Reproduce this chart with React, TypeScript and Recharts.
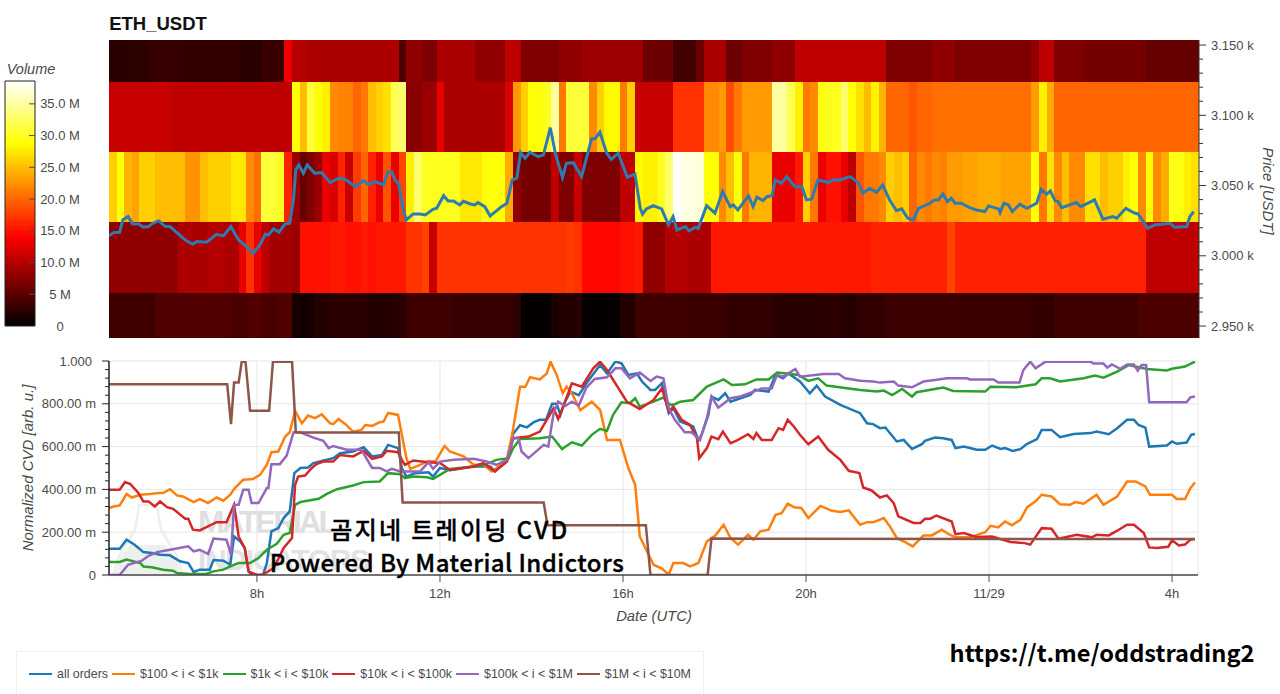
import React from "react";
import { ComposedChart, LineChart, Line, XAxis, YAxis, CartesianGrid, ReferenceArea, Legend } from "recharts";

type Pt = [number, number];

// time = minutes since the first column (04:46 UTC)
const timeTickValues = [194, 434, 674, 914, 1154, 1394];
const timeTickLabels = ["8h", "12h", "16h", "20h", "11/29", "4h"];

const priceMajorTicks = [2950, 3000, 3050, 3100, 3150];
const priceAllTicks = [2950, 2960, 2970, 2980, 2990, 3000, 3010, 3020, 3030, 3040, 3050, 3060, 3070, 3080, 3090, 3100, 3110, 3120, 3130, 3140, 3150];
const priceLabels = ["2.950 k", "3.000 k", "3.050 k", "3.100 k", "3.150 k"];

const volumeTicks = [0, 5, 10, 15, 20, 25, 30, 35];
const volumeLabels = ["0", "5 M", "10.0 M", "15.0 M", "20.0 M", "25.0 M", "30.0 M", "35.0 M"];

const cvdMajorTicks = [0, 0.2, 0.4, 0.6, 0.8, 1];
const cvdAllTicks = [0, 0.04, 0.08, 0.12, 0.16, 0.2, 0.24, 0.28, 0.32, 0.36, 0.4, 0.44, 0.48, 0.52, 0.56, 0.6, 0.64, 0.68, 0.72, 0.76, 0.8, 0.84, 0.88, 0.92, 0.96, 1];
const cvdLabels = ["0", "200.00 m", "400.00 m", "600.00 m", "800.00 m", "1.000"];

// price bands: [low, high, 10-minute column volumes in millions]
const band3150 = [
  2.5,2.5,2.4,2.6,2.5,3.0,3.1,3.0,3.0,2.8,
  2.8,2.8,2.8,2.8,2.8,2.8,2.8,2.3,2.3,2.4,
  3.2,3.2,3.2,13,10,10,9.5,9.5,9.5,9.5,
  9.5,9.5,9.5,9.5,9.5,9.5,9.5,9.5,4.5,8,
  8,7,7,9.5,9.5,9.5,9.5,9.5,8,8,
  8,8,10.5,10.5,7,7,7,7,7,8,
  8,8,8.6,8.6,8.6,8.6,8.6,8.6,8.6,8.6,
  6,6,6,6,3.7,3.5,3.7,6,9.5,9.5,
  9.5,6,6,7,7,7,7,8,8,8,
  10.5,10.5,10.5,10.5,10.5,10.5,10.5,10.5,10.5,10.5,
  10.5,10.5,7,7,7,7,7,7,8,8,
  8,7,7,7,7,7,7,7,7,7,
  7,8,10.5,10.5,7,7,7,7,6.4,6.4,
  6.4,6.4,6.4,6.4,6.4,6.4,5.5,5.5,5.5,5.5,
  5.5,5.5,5.5,
];
const band3100 = [
  11,11,11,11,11,11,11,11,10.5,10.5,
  10.5,10.5,10.5,10.5,10.5,10.5,10.5,10.5,10.5,10.5,
  10.5,10.5,10.5,10.5,29,25,31,29,28,22,
  21.5,21.5,20,21,25,26,27,32,33,7.5,
  7.5,8.5,8.5,13,9.5,9.5,9.5,9.5,9.5,9.5,
  9.5,9.5,12,23,26,29,29,30,35,21,
  31,31,31,22,26,28.5,28.5,21,26,11,
  11,11,11,11,17,17,17,17,22,22,
  23,18.5,21,23,23,23,23,35,35,32,
  28,21,22,29.5,30,30,33,29,27,25,
  28,24.5,20,20,20,19,20,20,20.5,20.5,
  20.5,20.5,20.5,20.5,20.5,20.5,20.5,20.5,20.5,20.5,
  20.5,23,28,24,20,20,20,20,20,20,
  20,20,20,20,20,20,20,20,20,20,
  20,20,20,
];
const band3050 = [
  26,29,24.5,23.5,26,26,25,25,25,25,
  22.5,22.5,25,26,26,26,27.5,27.5,22,20.5,
  31,31,30,16,8.5,5.5,7,8.5,13,12,
  16,11,17.5,20,16,13,19,13,18,28,
  33,30,30,30,30,30,27.5,27.5,27.5,29,
  29,29,24,8,6.5,6.5,6.5,6.5,10.5,7,
  7,11,7,7,7,7,7,10.5,10.5,28.5,
  28,28,30,33,39,37.5,37.5,37,29,29,
  22,25,29,21,24.5,24.5,24.5,13,13,13,
  15.5,26,21,13,15,15,13,10.5,19,21,
  21,22,26,25,26,20,22,21,22,21.5,
  23,23,23.5,23.5,24,24,24,23.5,23.5,23.5,
  23.5,29,21,27,22,25,22,22,27,27,
  25,26,26,28,29,22,29,22,24,29.5,
  29.5,28,27,
];
const band3000 = [
  8,8,8,8,8,8,8,8,8,9.5,
  9.5,9.5,9.5,10,10,9.5,9.5,13,17,13,
  10.5,9,9,9,8.5,15,15,15,15,15.5,
  15.5,15,15,15.5,15,15.5,15.5,15.5,15.5,17,
  17,18,11,17,17,17,17,17,17,17,
  17,17,17,17,17,17,17,17,17,17,
  17.5,17,14.5,14.5,14.5,14.5,14.5,15,15,15.5,
  8,8,8,10,10,10,9.5,9.5,9.5,15.5,
  15.5,15.5,15.5,15.5,15.5,15.5,15.5,15.5,15.5,15.5,
  15.5,15.5,15.5,15.5,15.5,15.5,15.5,15.5,15.5,15.5,
  16,16,16,16,16,16,16,16,16,16,
  18,16,16,16,16,16,16,16,16,16,
  16,16,16,16,16,16,16,16,16,16,
  16,16,16,16,16,16,10.5,10.5,10.5,10.5,
  10.5,10.5,10.5,
];
const band2950 = [
  3.5,3.5,3.5,3.5,3.5,3.5,4.5,4.5,4.5,4.5,
  4.5,4.5,4.5,4.5,4.5,4.5,4,4,4.5,4.5,
  4,4,4.5,4.5,1.2,1,1.2,2,2,2.5,
  2.5,2.5,2.5,2.5,2,2,2,2,2.5,3.5,
  3.5,3.5,3.5,3.5,3.5,3,3,3,3,3,
  3,3,3,2.5,0.3,0.3,0.3,0.3,1.5,2,
  2,2,0.4,0.3,0.3,0.3,0.4,1.8,1.8,3.5,
  3.5,3.5,3.5,3.5,3.5,3.5,3.2,3.2,3.2,3.2,
  3.2,2.8,2.8,2.8,2.8,2.8,2.8,2.2,2.2,2.2,
  2.2,2.2,2.2,2.5,2.5,2.5,2,2,2.8,2.8,
  2.8,2.8,3.3,3.3,3.3,3.3,3.3,3.3,3.3,3.3,
  3.3,3.2,3.2,3.2,3.2,3.2,3.2,3.2,3.2,3.2,
  3.2,2.8,2.8,2.8,3.5,3.5,3.5,3.5,3.5,3.5,
  3.5,3.5,3.5,3.5,3.5,4.2,4.2,4.2,4.2,4.2,
  4.2,4.2,4.2,
];
const priceBands: [number, number, number[]][] = [
  [3123.8, 3153.6, band3150],
  [3073.8, 3123.8, band3100],
  [3023.8, 3073.8, band3050],
  [2973.8, 3023.8, band3000],
  [2941.5, 2973.8, band2950],
];

const price: Pt[] = [
  [0,3014.2],[6,3016.5],[14,3016.8],[18,3025.5],[25,3027.9],[31,3022.7],[39,3022.7],[45,3020.3],[52,3020.8],[56,3022.7],[65,3025],[74,3020.8],[80,3020.8],[89,3016.5],[100,3011.3],[110,3008.2],[115,3010.1],[128,3009.7],[141,3015.3],[150,3014.2],[160,3020.8],[170,3011.3],[178,3007.8],[189,3001.8],[198,3007.8],[205,3015.3],[209,3014.8],[216,3019.2],[223,3016.8],[231,3022.7],[237,3023.2],[242,3039.8],[245,3061.1],[249,3064.7],[255,3058.7],[260,3064.7],[270,3058.7],[279,3059.2],[290,3052.1],[301,3055.2],[310,3054.5],[323,3049.2],[334,3053.5],[340,3050.9],[349,3052.8],[360,3050.4],[366,3059.9],[371,3059.9],[375,3054],[380,3051.6],[385,3035],[390,3025.5],[399,3029.8],
  [408,3029.8],[415,3029.1],[425,3033.1],[430,3033.8],[439,3042.8],[445,3039],[452,3039],[460,3036.2],[465,3038.8],[474,3036.9],[480,3036.2],[484,3037.9],[493,3035],[500,3028.4],[515,3035],[522,3037.4],[529,3054],[535,3055.2],[540,3073.4],[546,3069.4],[552,3073.7],[563,3070.6],[570,3071.8],[579,3091.2],[586,3071.8],[595,3055.9],[600,3065.8],[609,3066.3],[620,3056.4],[633,3083.1],[638,3083.6],[644,3087.9],[653,3073],[659,3068.7],[668,3073],[680,3055.9],[690,3058.2],[697,3033.8],[700,3029.6],[705,3033.4],[714,3035.7],[725,3033.4],[734,3022],[740,3027.9],[745,3018.4],[756,3020.8],[761,3017.7],[769,3020.3],[773,3019.6],[784,3035.7],[795,3030.3],[805,3045.7],[815,3035],[819,3036.2],[825,3032.6],[839,3042.6],[845,3035],[850,3041.7],[858,3039.3],[863,3042.1],[870,3042.8],[874,3054],[882,3051.6],[889,3056.4],[900,3049.2],[909,3049.2],[915,3039.8],[922,3040.5],[930,3054],[944,3052.3],[950,3054],[959,3054],
  [972,3056.4],[983,3052.1],[989,3044.5],[998,3048.1],[1007,3045.2],[1015,3050.4],[1024,3039.8],[1033,3032.2],[1040,3033.4],[1048,3026.7],[1055,3025.5],[1062,3033.8],[1077,3037.4],[1083,3039.8],[1088,3039.8],[1094,3044],[1100,3038.6],[1105,3041],[1110,3037.4],[1118,3037.4],[1129,3034.3],[1138,3032.6],[1149,3031.5],[1154,3035.5],[1167,3033.4],[1169,3030.7],[1174,3037.4],[1180,3036.2],[1185,3031.5],[1195,3036.7],[1204,3033.8],[1217,3037.4],[1223,3047.3],[1230,3043.8],[1235,3046.2],[1241,3039.3],[1245,3038.6],[1250,3034.3],[1269,3037.9],[1275,3035],[1293,3039.8],[1304,3026],[1317,3027.9],[1322,3026.7],[1334,3033.8],[1346,3030.3],[1350,3029.8],[1363,3019.6],[1372,3022],[1392,3023.2],[1398,3020.3],[1414,3020.8],[1418,3027.9],[1423,3031.5],
];

const allOrders: Pt[] = [
  [0,.123],[14,.123],[23,.165],[34,.14],[45,.107],[56,.103],[67,.095],[80,.092],[93,.064],[104,.056],[111,.014],[119,.025],[132,.025],[137,.07],[150,.067],[159,.048],[164,.18],[172,.157],[178,.126],[183,.017],[187,0],[202,0],[207,.056],[213,.204],[222,.219],[229,.266],[237,.297],[243,.476],[251,.5],[261,.502],[268,.523],[279,.533],[294,.546],[303,.569],[320,.577],[334,.597],[345,.554],[358,.561],[366,.608],[379,.593],[384,.5],[390,.46],[401,.476],[419,.48],[425,.46],
  [434,.5],[447,.49],[478,.507],[500,.507],[506,.484],[522,.538],[530,.66],[539,.7],[548,.69],[557,.714],[565,.725],[573,.725],[581,.8],[587,.8],[592,.748],[598,.81],[605,.857],[616,.84],[626,.896],[644,.981],[653,.942],[664,.997],[672,.989],[681,.935],[692,.942],[699,.904],[710,.865],[716,.865],[725,.896],[734,.756],[740,.78],[749,.717],[766,.694],[773,.631],[777,.655],[786,.748],[790,.834],[799,.818],[808,.849],[815,.81],[828,.826],[841,.841],[847,.865],[865,.857],[874,.935],[884,.919],[891,.942],[906,.904],[919,.849],[928,.885],[939,.834],[959,.795],[985,.756],
  [994,.709],[1002,.705],[1011,.686],[1018,.689],[1033,.624],[1042,.631],[1053,.589],[1066,.611],[1070,.627],[1083,.642],[1094,.639],[1105,.631],[1110,.593],[1121,.6],[1138,.585],[1149,.585],[1158,.605],[1169,.589],[1175,.593],[1185,.58],[1195,.588],[1204,.613],[1217,.635],[1223,.678],[1236,.678],[1247,.644],[1265,.659],[1287,.663],[1295,.67],[1311,.658],[1322,.686],[1335,.725],[1344,.725],[1350,.701],[1359,.689],[1364,.6],[1387,.605],[1394,.624],[1400,.613],[1413,.619],[1419,.655],[1424,.659],
];

const orders100To1k: Pt[] = [
  [0,.313],[6,.32],[14,.325],[23,.378],[30,.362],[41,.375],[54,.378],[65,.383],[71,.383],[80,.401],[89,.372],[97,.367],[111,.341],[119,.355],[130,.336],[141,.362],[150,.347],[159,.375],[165,.406],[176,.445],[189,.449],[198,.468],[207,.515],[213,.574],[222,.577],[231,.647],[237,.667],[244,.767],[253,.709],[261,.745],[270,.733],[279,.751],[290,.709],[294,.705],[301,.729],[310,.705],[320,.67],[331,.678],[336,.701],[345,.697],[355,.714],[360,.717],[366,.757],[379,.748],[390,.546],[395,.496],[408,.515],[419,.533],[428,.53],
  [440,.603],[447,.577],[465,.554],[478,.515],[491,.515],[502,.484],[511,.507],[522,.546],[529,.663],[539,.88],[546,.88],[552,.924],[565,.914],[574,.942],[579,.997],[587,.935],[595,.849],[600,.88],[607,.849],[618,.771],[633,.81],[644,.771],[653,.631],[670,.631],[681,.5],[690,.421],[696,.18],[714,.048],[725,.03],[734,.002],[740,.056],[753,.056],[762,.04],[773,.056],[784,.157],[795,.184],[806,.235],[815,.173],[825,.142],[838,.188],[845,.165],[854,.204],[865,.212],[874,.281],[882,.289],[890,.333],[898,.317],[908,.313],[917,.266],[933,.323],[948,.3],[959,.294],[970,.302],[985,.235],
  [994,.247],[1002,.246],[1016,.266],[1024,.227],[1033,.173],[1044,.154],[1054,.134],[1068,.185],[1079,.185],[1092,.212],[1101,.191],[1110,.176],[1129,.176],[1149,.2],[1156,.23],[1166,.222],[1175,.25],[1184,.232],[1195,.258],[1204,.317],[1215,.344],[1223,.375],[1236,.367],[1247,.331],[1260,.328],[1267,.341],[1278,.333],[1295,.375],[1304,.328],[1322,.367],[1335,.437],[1346,.437],[1359,.414],[1365,.375],[1394,.375],[1400,.355],[1411,.355],[1418,.406],[1424,.432],
];

const orders1kTo10k: Pt[] = [
  [0,.061],[14,.061],[23,.072],[41,.056],[45,.04],[56,.036],[71,.025],[84,.02],[89,.009],[106,.005],[115,.005],[128,.006],[137,.017],[150,.025],[159,.04],[170,.056],[185,.056],[196,.079],[207,.118],[220,.146],[229,.188],[237,.196],[244,.328],[251,.341],[275,.356],[285,.378],[299,.401],[320,.418],[334,.434],[355,.437],[366,.476],[382,.471],[388,.453],[399,.46],[417,.457],[425,.449],
  [434,.468],[447,.496],[478,.507],[495,.518],[508,.538],[524,.546],[530,.593],[539,.636],[565,.639],[581,.647],[594,.589],[607,.62],[620,.605],[633,.655],[644,.683],[653,.673],[661,.748],[672,.807],[683,.803],[690,.826],[696,.787],[714,.81],[727,.829],[736,.795],[742,.798],[749,.81],[766,.818],[784,.88],[806,.914],[817,.888],[834,.891],[849,.914],[865,.914],[876,.946],[889,.942],[904,.935],[917,.907],[930,.919],[941,.885],[985,.865],
  [1007,.857],[1016,.862],[1027,.841],[1040,.869],[1053,.834],[1059,.854],[1094,.876],[1107,.86],[1149,.857],[1156,.88],[1190,.877],[1215,.891],[1223,.919],[1234,.919],[1247,.904],[1278,.919],[1293,.932],[1304,.922],[1322,.95],[1337,.981],[1361,.963],[1387,.956],[1394,.964],[1411,.974],[1424,.997],
];

const orders10kTo100k: Pt[] = [
  [0,.398],[14,.398],[21,.434],[28,.425],[38,.386],[45,.344],[52,.344],[60,.32],[67,.344],[76,.317],[84,.309],[100,.263],[104,.263],[110,.212],[119,.208],[141,.247],[154,.247],[164,.328],[170,.18],[178,.126],[183,.017],[194,0],[202,.002],[216,.033],[229,.126],[240,.173],[244,.421],[248,.46],[257,.465],[266,.5],[272,.518],[281,.53],[294,.53],[303,.561],[320,.554],[334,.58],[345,.543],[358,.554],[364,.58],[379,.574],[384,.538],[388,.515],[399,.535],[419,.527],[434,.523],
  [447,.491],[478,.507],[491,.523],[506,.484],[522,.53],[530,.639],[550,.647],[565,.67],[574,.725],[583,.779],[589,.729],[598,.81],[607,.896],[620,.88],[635,.966],[644,.997],[653,.958],[679,.81],[696,.776],[714,.818],[725,.872],[734,.764],[740,.787],[751,.725],[762,.701],[771,.639],[774,.546],[784,.593],[790,.647],[799,.635],[805,.67],[815,.616],[823,.628],[838,.658],[845,.636],[849,.663],[856,.631],[869,.631],[878,.686],[884,.678],[890,.725],[898,.694],[906,.655],[917,.611],[930,.647],[943,.585],[959,.538],[970,.487],[984,.476],
  [989,.409],[1000,.395],[1011,.362],[1020,.372],[1029,.336],[1035,.274],[1055,.243],[1064,.243],[1070,.263],[1077,.263],[1085,.278],[1105,.25],[1110,.191],[1121,.196],[1138,.177],[1158,.18],[1182,.154],[1201,.149],[1208,.142],[1223,.219],[1236,.216],[1245,.17],[1269,.188],[1289,.176],[1295,.188],[1311,.185],[1322,.207],[1335,.235],[1344,.235],[1357,.196],[1364,.129],[1374,.126],[1389,.132],[1394,.162],[1403,.138],[1411,.142],[1418,.165],[1424,.168],
];

const orders100kTo1M: Pt[] = [
  [0,0],[14,0],[25,.048],[43,.067],[52,.09],[63,.107],[80,.118],[104,.134],[111,.11],[119,.118],[130,.098],[137,.17],[154,.165],[160,.095],[164,.328],[170,.328],[176,.398],[183,.398],[187,.336],[196,.336],[207,.406],[209,.406],[213,.518],[224,.518],[233,.558],[242,.667],[251,.667],[268,.642],[281,.627],[288,.593],[294,.603],[312,.585],[331,.585],[345,.5],[355,.5],[364,.484],[371,.496],[382,.484],[408,.484],[419,.527],[425,.496],
  [434,.53],[452,.538],[478,.543],[495,.53],[508,.515],[522,.538],[530,.639],[537,.639],[541,.577],[550,.546],[570,.608],[576,.6],[583,.756],[589,.81],[598,.79],[607,.81],[616,.792],[626,.876],[637,.916],[653,.924],[664,.966],[672,.966],[683,.919],[696,.946],[710,.907],[718,.927],[727,.919],[734,.779],[742,.725],[755,.667],[764,.667],[775,.631],[784,.733],[790,.834],[799,.782],[815,.826],[828,.834],[845,.857],[856,.872],[869,.872],[876,.935],[884,.927],[900,.963],[906,.927],[937,.939],[957,.939],[965,.919],[985,.908],
  [1002,.904],[1011,.899],[1029,.904],[1035,.885],[1053,.877],[1068,.904],[1083,.911],[1099,.919],[1125,.919],[1129,.914],[1160,.914],[1166,.899],[1194,.899],[1199,.958],[1208,.997],[1215,.966],[1228,.997],[1287,.997],[1291,.988],[1304,.988],[1309,.969],[1315,.984],[1326,.963],[1335,.984],[1344,.984],[1349,.955],[1354,.981],[1360,.981],[1364,.807],[1413,.807],[1418,.83],[1424,.834],
];

const orders1MTo10M: Pt[] = [
  [0,.891],[155,.891],[160,.705],[164,.899],[170,.899],[174,.997],[179,.997],[185,.767],[210,.767],[215,.997],[240,.997],[245,.666],[380,.666],[385,.339],[570,.339],[575,.232],[704,.232],[710,0],[785,0],[790,.17],[1424,.168],
];

const toRows = (pts: Pt[]) => pts.map(([t, v]) => ({ t, v }));

const cvdSeries: [string, string, Pt[]][] = [
  ["all orders", "#1f77b4", allOrders],
  ["$100 < i < $1k", "#ff7f0e", orders100To1k],
  ["$1k < i < $10k", "#2ca02c", orders1kTo10k],
  ["$10k < i < $100k", "#d62728", orders10kTo100k],
  ["$100k < i < $1M", "#9467bd", orders100kTo1M],
  ["$1M < i < $10M", "#8c564b", orders1MTo10M],
];

const SANS = '"Liberation Sans", Arial, sans-serif';
const KR = '"Noto Sans CJK KR", "Noto Sans", sans-serif';
const GREY = "#4a4a4a";

const VOLUME_MAX = 38.6;
const COLOR_STEPS = 150;
function hot(volume: number) {
  const u = Math.max(0, Math.min(1, volume / VOLUME_MAX));
  const ch = (a: number, b: number) => Math.round(255 * Math.max(0, Math.min(1, (u - a) / (b - a))));
  return `rgb(${ch(0, 0.365)},${ch(0.365, 0.746)},${ch(0.746, 1)})`;
}

function Txt({ x, y, rotate = 0, style, children }: any) {
  return (
    <div
      style={{
        position: "absolute",
        left: x,
        top: y,
        transform: `translate(-50%,-50%) rotate(${rotate}deg)`,
        whiteSpace: "nowrap",
        fontFamily: SANS,
        ...style,
      }}
    >
      {children}
    </div>
  );
}

const PriceTick = ({ x, y, payload }: any) => {
  const i = priceMajorTicks.indexOf(payload.value);
  return (
    <g>
      <line x1={x} x2={x + (i >= 0 ? 7 : 4)} y1={y} y2={y} stroke="#333" strokeWidth={1} />
      {i >= 0 && (
        <text x={x + 12} y={y + 4.5} fontSize={13} fontFamily={SANS} fill={GREY} textAnchor="start">
          {priceLabels[i]}
        </text>
      )}
    </g>
  );
};

const VolumeTick = ({ x, y, payload }: any) => {
  const i = volumeTicks.indexOf(payload.value);
  return (
    <g>
      {payload.value > 0 && <line x1={x - 6} x2={x} y1={y} y2={y} stroke={GREY} strokeWidth={1} />}
      <text x={x + 25} y={y + 4.5} fontSize={13} fontFamily={SANS} fill={GREY} textAnchor="middle">
        {volumeLabels[i]}
      </text>
    </g>
  );
};

const CvdTick = ({ x, y, payload }: any) => {
  const i = cvdMajorTicks.findIndex((m) => Math.abs(m - payload.value) < 1e-9);
  return (
    <g>
      <line x1={x - (i >= 0 ? 7 : 4)} x2={x} y1={y} y2={y} stroke="#222" strokeWidth={1} />
      {i >= 0 && (
        <text x={x - (payload.value === 1 ? 17 : 13)} y={y + 4.5} fontSize={13} fontFamily={SANS} fill={GREY} textAnchor="end">
          {cvdLabels[i]}
        </text>
      )}
    </g>
  );
};

const TimeTick = ({ x, y, payload }: any) => {
  const i = timeTickValues.indexOf(payload.value);
  return (
    <g>
      <line x1={x} x2={x} y1={y} y2={y + 7} stroke={GREY} strokeWidth={1} />
      <text x={x} y={y + 23} fontSize={13} fontFamily={SANS} fill={GREY} textAnchor="middle">
        {timeTickLabels[i]}
      </text>
    </g>
  );
};

const LegendBox = ({ payload }: any) => (
  <div
    style={{
      boxSizing: "border-box",
      width: 688,
      height: 43,
      border: "1px solid #f0f0f0",
      borderBottom: "none",
      display: "flex",
      alignItems: "center",
      paddingLeft: 12,
      paddingTop: 2,
      fontFamily: SANS,
      fontSize: 12.4,
      color: GREY,
      whiteSpace: "nowrap",
    }}
  >
    {(payload || []).map((item: any) => (
      <span key={item.value} style={{ display: "inline-flex", alignItems: "center", marginRight: 4 }}>
        <span style={{ display: "inline-block", width: 23, height: 2, background: item.color, marginRight: 5 }} />
        {item.value}
      </span>
    ))}
  </div>
);

const HeatCell = ({ x, y, width, height, fill }: any) => (
  <rect x={x} y={y} width={width} height={height} fill={fill} shapeRendering="crispEdges" />
);

function HeatmapChart() {
  return (
    <ComposedChart width={1280} height={345} margin={{ top: 40, right: 11, bottom: 7, left: 109 }} style={{ position: "absolute", left: 0, top: 0 }}>
      <XAxis type="number" dataKey="t" domain={[0, 1430]} hide allowDataOverflow />
      <YAxis
        type="number"
        dataKey="v"
        orientation="right"
        width={70}
        domain={[2941.5, 3153.6]}
        ticks={priceAllTicks}
        interval={0}
        tickLine={false}
        tickSize={0}
        tickMargin={0}
        tick={PriceTick}
        axisLine={{ stroke: "#333", strokeWidth: 1 }}
        allowDataOverflow
      />
      {priceBands.flatMap(([low, high, volumes]) =>
        volumes.map((volume, col) => (
          <ReferenceArea
            key={`${low}-${col}`}
            x1={col * 10}
            x2={Math.min(1430, col * 10 + 10)}
            y1={low}
            y2={high}
            fill={hot(volume)}
            fillOpacity={1}
            shape={HeatCell}
            ifOverflow="extendDomain"
          />
        ))
      )}
      <Line data={toRows(price)} dataKey="v" stroke="#2f7bb0" strokeWidth={3} dot={false} isAnimationActive={false} legendType="none" />
    </ComposedChart>
  );
}

function ColorBar() {
  const levels = Array.from({ length: COLOR_STEPS }, (_, i) => i);
  return (
    <ComposedChart
      width={100}
      height={280}
      data={volumeTicks.map((v) => ({ x: 0.5, v }))}
      margin={{ top: 21, right: 0, bottom: 14, left: 5 }}
      style={{ position: "absolute", left: 0, top: 60 }}
    >
      <XAxis type="number" dataKey="x" domain={[0, 1]} hide allowDataOverflow />
      <YAxis
        type="number"
        dataKey="v"
        orientation="right"
        width={65}
        domain={[0, VOLUME_MAX]}
        allowDataOverflow
        ticks={volumeTicks}
        interval={0}
        tickLine={false}
        tickSize={0}
        tickMargin={0}
        tick={VolumeTick}
        axisLine={false}
      />
      {levels.map((i) => {
        const low = (i / COLOR_STEPS) * VOLUME_MAX;
        const high = ((i + 1) / COLOR_STEPS) * VOLUME_MAX;
        return (
          <ReferenceArea
            key={i}
            x1={0}
            x2={1}
            y1={low}
            y2={high}
            fill={hot((low + high) / 2)}
            fillOpacity={1}
            shape={HeatCell}
            ifOverflow="extendDomain"
          />
        );
      })}
      <ReferenceArea x1={0} x2={1} y1={0} y2={VOLUME_MAX} fill="none" stroke="#222" strokeWidth={1} ifOverflow="extendDomain" />
      <Line dataKey="v" stroke="none" dot={false} isAnimationActive={false} legendType="none" />
    </ComposedChart>
  );
}

function CvdChart() {
  return (
    <LineChart width={1280} height={349} margin={{ top: 16, right: 82, bottom: 89, left: 0 }} style={{ position: "absolute", left: 0, top: 345 }}>
      <CartesianGrid stroke="#e6e6e6" strokeWidth={1} horizontalValues={cvdMajorTicks} verticalValues={[...timeTickValues, 1428]} />
      <XAxis
        type="number"
        dataKey="t"
        domain={[0, 1428]}
        height={30}
        ticks={timeTickValues}
        interval={0}
        tickLine={false}
        tickSize={0}
        tickMargin={0}
        tick={TimeTick}
        axisLine={{ stroke: GREY, strokeWidth: 1.5 }}
        allowDataOverflow
      />
      <YAxis
        type="number"
        dataKey="v"
        width={109}
        domain={[0, 1]}
        ticks={cvdAllTicks}
        interval={0}
        tickLine={false}
        tickSize={0}
        tickMargin={0}
        tick={CvdTick}
        axisLine={{ stroke: "#222", strokeWidth: 1.5 }}
        allowDataOverflow
      />
      {cvdSeries.map(([name, color, pts]) => (
        <Line key={name} name={name} data={toRows(pts)} dataKey="v" stroke={color} strokeWidth={2.5} dot={false} isAnimationActive={false} />
      ))}
      <Legend
        layout="horizontal"
        align="center"
        verticalAlign="middle"
        itemSorter={null}
        content={LegendBox as any}
        wrapperStyle={{ position: "absolute", left: 16, top: 306, right: "auto", bottom: "auto", width: 688, height: 43 }}
      />
    </LineChart>
  );
}

function Watermark() {
  return (
    <svg width={1280} height={694} style={{ position: "absolute", left: 0, top: 0 }}>
      <path d="M 113 575 L 119 556 L 135 530 L 139 505 L 157 505 L 161 530 L 177 556 L 183 575 Z" fill="none" stroke="#eeeeee" strokeWidth={2.5} />
      <path d="M 115 575 L 121 556 L 130 545 L 165 545 L 176 558 L 181 575 Z" fill="#edf1ee" />
      <text x={198} y={533} fontFamily={SANS} fontWeight={700} fontSize={32} fill="#dfdfdf" textLength={140}>MATERIAL</text>
      <text x={198} y={570} fontFamily={SANS} fontWeight={700} fontSize={30} fill="#e2e2e2" textLength={172}>INDICATORS</text>
    </svg>
  );
}

const overlayStyle = { fontFamily: KR, fontWeight: 500, color: "#000", WebkitTextStroke: "0.35px #000" };

export default function App() {
  return (
    <div style={{ position: "absolute", left: 0, top: 0, width: 1280, height: 694, background: "#fff", overflow: "hidden" }}>
      <Watermark />
      <HeatmapChart />
      <ColorBar />
      <CvdChart />
      <Txt x={158} y={24} style={{ fontSize: 18.5, fontWeight: 700, color: "#111" }}>ETH_USDT</Txt>
      <Txt x={31} y={69} style={{ fontSize: 14.5, fontStyle: "italic", color: GREY }}>Volume</Txt>
      <Txt x={1268} y={191} rotate={90} style={{ fontSize: 15, fontStyle: "italic", color: GREY }}>Price [USDT]</Txt>
      <Txt x={27} y={468} rotate={-90} style={{ fontSize: 15, fontStyle: "italic", color: GREY }}>Normalized CVD [arb. u.]</Txt>
      <Txt x={654} y={616} style={{ fontSize: 14.8, fontStyle: "italic", color: GREY }}>Date (UTC)</Txt>
      <Txt x={450} y={527.5} style={{ ...overlayStyle, fontSize: 24, letterSpacing: 2.3 }}>곰지네 트레이딩 CVD</Txt>
      <Txt x={447} y={561} style={{ ...overlayStyle, fontSize: 24, letterSpacing: 0.45 }}>Powered By Material Indictors</Txt>
      <Txt x={1102} y={652} style={{ fontFamily: KR, fontSize: 23.6, fontWeight: 700, color: "#000" }}>https://t.me/oddstrading2</Txt>
    </div>
  );
}
